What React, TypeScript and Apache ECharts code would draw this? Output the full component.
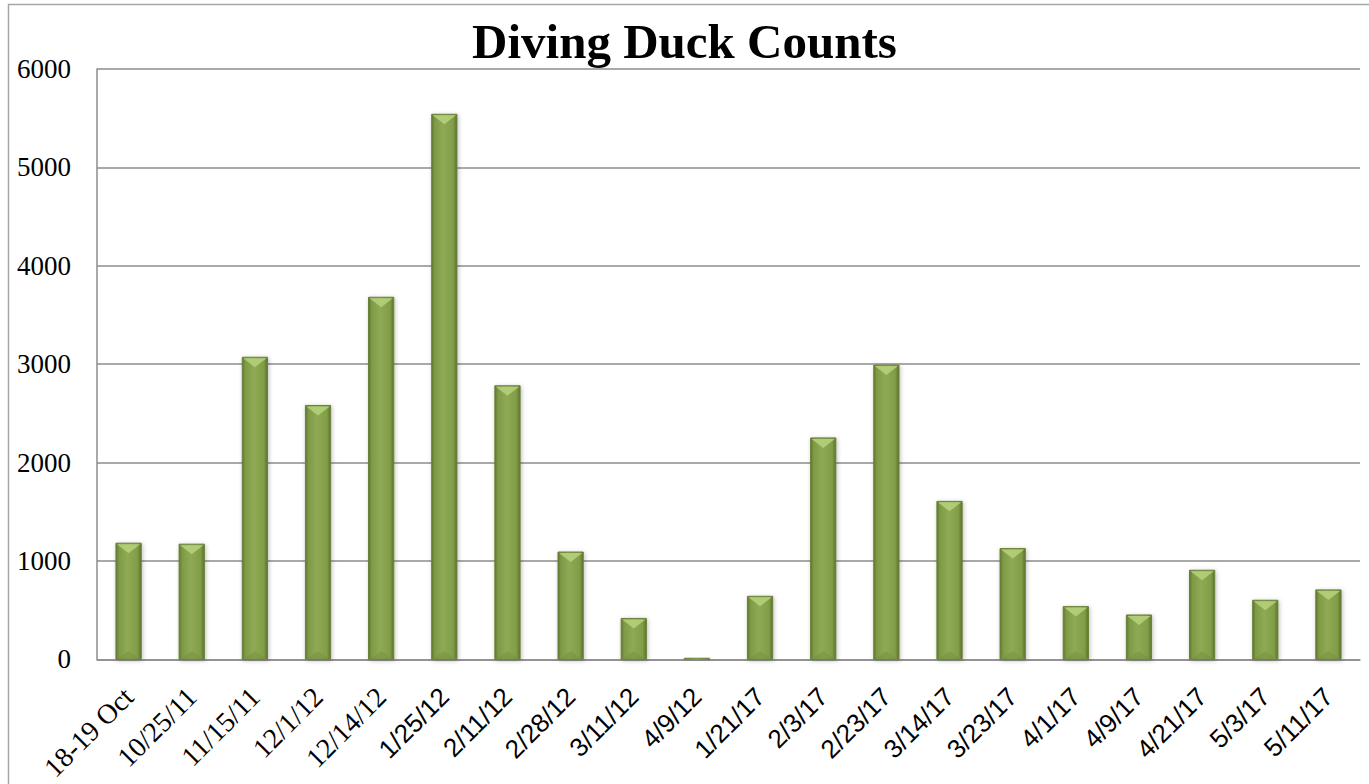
import React, { useEffect, useRef } from "react";
import * as echarts from "echarts";

const categories = [
  "18-19 Oct", "10/25/11", "11/15/11", "12/1/12", "12/14/12", "1/25/12", "2/11/12",
  "2/28/12", "3/11/12", "4/9/12", "1/21/17", "2/3/17", "2/23/17", "3/14/17",
  "3/23/17", "4/1/17", "4/9/17", "4/21/17", "5/3/17", "5/11/17",
];
const counts = [1180, 1170, 3070, 2580, 3680, 5540, 2780, 1090, 415, 10, 640, 2250, 2990, 1605, 1125, 535, 450, 905, 600, 705];
const yTicks = { min: 0, max: 6000, interval: 1000 };
const titleText = "Diving Duck Counts";
const serifLabelCount = 5;

export default function App() {
  const ref = useRef<HTMLDivElement>(null);
  useEffect(() => {
    if (!ref.current) return;
    const chart = echarts.init(ref.current, null, { renderer: "svg" });
    const data = counts.map((v, i) => [i, v]);
    chart.setOption({
      animation: false,
      backgroundColor: "#ffffff",
      title: {
        text: titleText,
        left: "center",
        top: 12,
        textStyle: { fontFamily: "Liberation Serif", fontWeight: "bold", fontSize: 49, color: "#000" },
      },
      graphic: [
        {
          type: "rect",
          shape: { x: 8.5, y: 4.5, width: 1400, height: 800 },
          style: { fill: "none", stroke: "#a6a6a6", lineWidth: 1.5 },
          silent: true,
        },
      ],
      grid: { left: 97, top: 69, right: 9, bottom: 124, containLabel: false },
      xAxis: {
        type: "category",
        data: categories,
        axisLine: { show: true, lineStyle: { color: "#8c8c8c", width: 1.5 } },
        axisTick: { show: false },
        axisLabel: {
          rotate: 45,
          interval: 0,
          margin: 33,
          color: "#000",
          formatter: (val: string, idx: number) => (idx < serifLabelCount ? `{s|${val}}` : `{n|${val}}`),
          rich: {
            s: { fontFamily: "Liberation Serif", fontSize: 28, color: "#000" },
            n: { fontFamily: "Liberation Sans", fontSize: 26, color: "#000" },
          },
        },
      },
      yAxis: {
        type: "value",
        min: yTicks.min,
        max: yTicks.max,
        interval: yTicks.interval,
        axisLine: { show: true, lineStyle: { color: "#8c8c8c", width: 1.5 } },
        axisTick: { show: false },
        splitLine: { show: true, lineStyle: { color: "#8c8c8c", width: 1.5 } },
        axisLabel: {
          color: "#000",
          fontFamily: "Liberation Serif",
          fontSize: 27,
          margin: 26,
          formatter: (v: number) => String(v),
        },
      },
      series: [
        {
          type: "custom",
          data,
          encode: { x: 0, y: 1 },
          renderItem: (params: any, api: any) => {
            const idx = api.value(0);
            const val = api.value(1);
            const top = api.coord([idx, val]);
            const base = api.coord([idx, 0]);
            const bw = api.size([1, 0])[0] * 0.4;
            const x = top[0] - bw / 2;
            const y = top[1];
            const h = Math.max(base[1] - top[1], 1);
            const bev = Math.min(10, h / 2);
            return {
              type: "group",
              children: [
                {
                  type: "rect",
                  shape: { x, y, width: bw, height: h },
                  style: {
                    fill: new echarts.graphic.LinearGradient(0, 0, 1, 0, [
                      { offset: 0, color: "#5f7630" },
                      { offset: 0.12, color: "#7e9a45" },
                      { offset: 0.45, color: "#8eaa55" },
                      { offset: 0.85, color: "#819d47" },
                      { offset: 1, color: "#5c722e" },
                    ]),
                    stroke: "#6a8038",
                    lineWidth: 1,
                    shadowBlur: 4,
                    shadowColor: "rgba(0,0,0,0.25)",
                    shadowOffsetX: 1,
                    shadowOffsetY: 1,
                  },
                },
                {
                  type: "polygon",
                  shape: { points: [[x + 1, y + 1], [x + bw - 1, y + 1], [x + bw / 2, y + bev]] },
                  style: { fill: "#b4d07a", opacity: 0.9 },
                },
                {
                  type: "polygon",
                  shape: { points: [[x + 1, base[1] - 0.5], [x + bw - 1, base[1] - 0.5], [x + bw / 2, base[1] - Math.min(8, h / 2)]] },
                  style: { fill: "#7a943f", opacity: 0.6 },
                },
              ],
            };
          },
        },
      ],
    });
    return () => chart.dispose();
  }, []);
  return <div ref={ref} style={{ position: "absolute", left: 0, top: 0, width: 1369, height: 784 }} />;
}
